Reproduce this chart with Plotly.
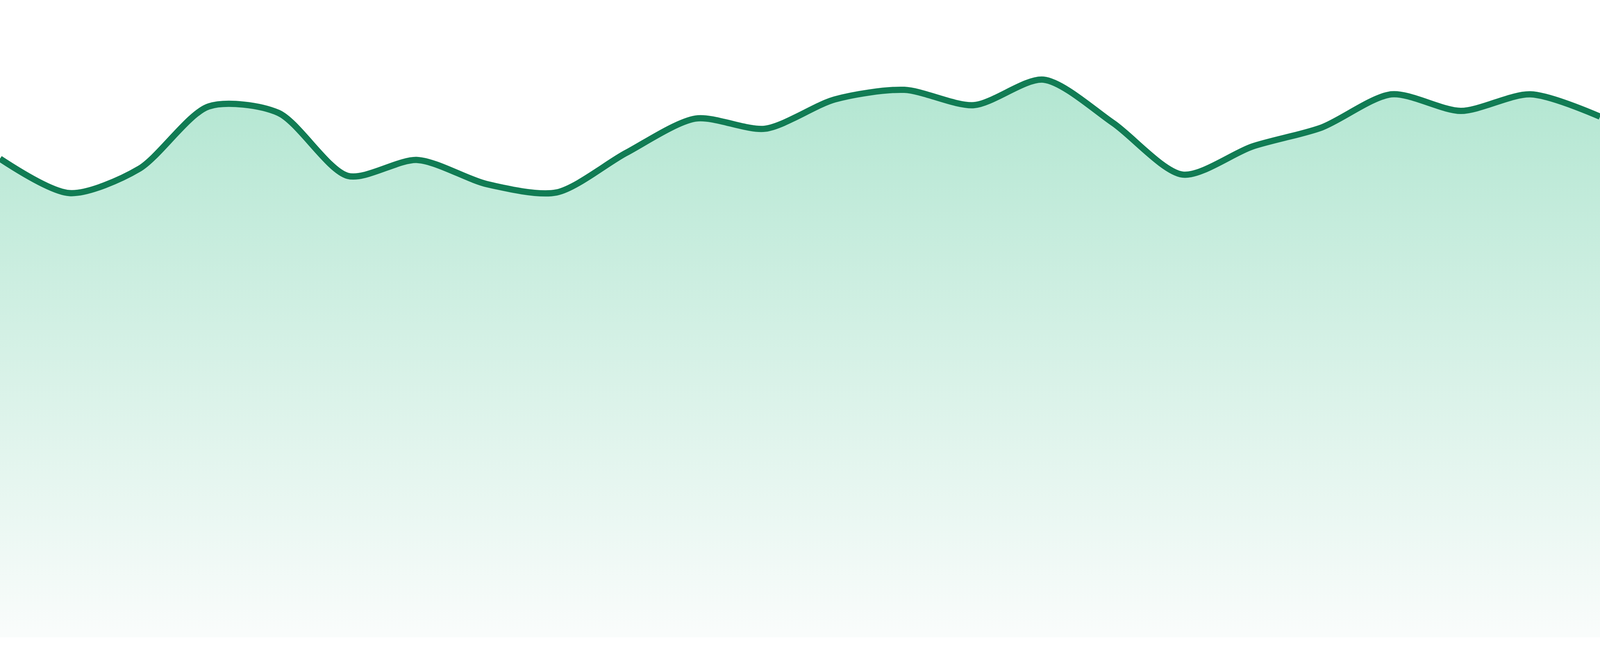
import plotly.graph_objects as go

# sparkline values (axis runs 0..100)
values = [75.1, 69.7, 73.5, 83.3, 82.3, 72.4, 74.9, 71.1, 69.8, 76.0,
          81.4, 79.8, 84.4, 85.9, 83.5, 87.5, 80.7, 72.6, 77.0, 80.0,
          85.2, 82.6, 85.2, 81.7]
steps = list(range(len(values)))

line_color = "#117c54"
fill_top = "rgb(178,230,209)"
fill_bottom = "rgb(249,252,251)"

fig = go.Figure()
fig.add_trace(go.Scatter(
    x=steps, y=values,
    mode="lines",
    line=dict(color=line_color, width=16, shape="spline", smoothing=0.8),
    fill="tozeroy",
    fillgradient=dict(type="vertical", start=0, stop=88,
                      colorscale=[[0, fill_bottom], [1, fill_top]]),
    hoverinfo="skip",
))

fig.update_layout(
    margin=dict(l=0, r=0, t=0, b=0),
    paper_bgcolor="white", plot_bgcolor="white",
    showlegend=False,
)
fig.update_xaxes(visible=False, range=[0, len(values) - 1])
# a bit below zero so the white strip under the fill stays
fig.update_yaxes(visible=False, range=[-2.94, 100])

# fit the plot to the browser window, no page margin
fit_js = """
document.body.style.margin='0';
document.body.style.overflow='hidden';
var gd = document.getElementById('{plot_id}');
Plotly.relayout(gd, {width: window.innerWidth, height: window.innerHeight});
"""

fig.write_html("out.html", post_script=fit_js, config={"displayModeBar": False})
